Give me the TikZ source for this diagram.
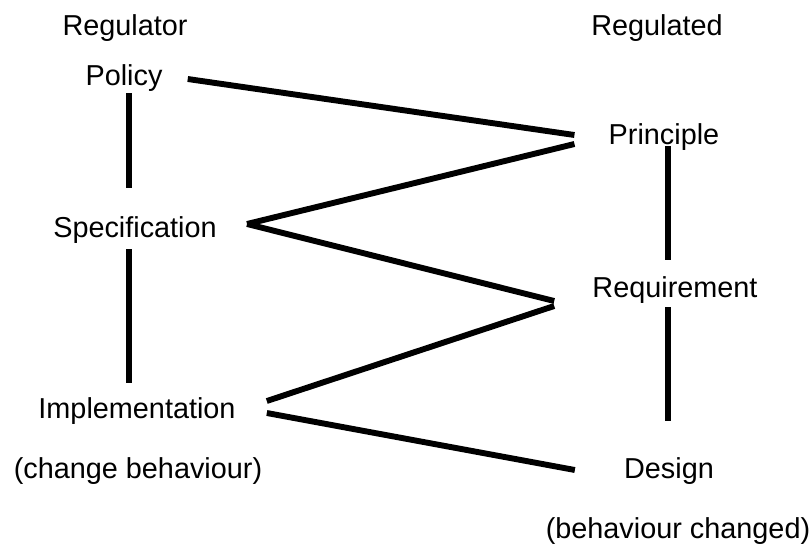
\documentclass[tikz,border=0pt]{standalone}
\usepackage{fontspec}
\setmainfont{Liberation Sans}
\usetikzlibrary{calc}

\begin{document}
\begin{tikzpicture}[
    x=0.025cm, y=-0.025cm,
    every node/.style={font=\fontsize{20.5}{24}\selectfont, inner sep=0pt, anchor=base},
    link/.style={draw=black, line width=4.2pt}
]
\useasboundingbox (0,0) rectangle (812,547);
% regulator side
\node (regulator) at (125,35) {Regulator};
\node (policy) at (124,85) {Policy};
\node (spec) at (135,237) {Specification};
\node (impl) at (137,418) {Implementation};
\node (change) at (138,478) {(change behaviour)};
% regulated side
\node (regulated) at (657,35) {Regulated};
\node (princ) at (664,144) {Principle};
\node (req) at (675,297) {Requirement};
\node (design) at (669,478) {Design};
\node (changed) at (678,538) {(behaviour changed)};
% vertical links
\draw[link] ($(policy.base)+(5,8)$) -- ($(spec.base)+(-6,-49)$);
\draw[link] ($(spec.base)+(-6,12)$) -- ($(impl.base)+(-8,-35)$);
\draw[link] ($(princ.base)+(4,2)$) -- ($(req.base)+(-7,-37)$);
\draw[link] ($(req.base)+(-7,10)$) -- ($(design.base)+(-1,-57)$);
% zigzag links
\draw[link] ($(policy.base east)+(25,-6)$) -- ($(princ.base west)+(-34,-9)$);
\draw[link] ($(princ.base west)+(-34,0)$) -- ($(spec.base east)+(30,-13)$);
\draw[link] ($(spec.base east)+(30,-13)$) -- ($(req.base west)+(-38,4)$);
\draw[link] ($(req.base west)+(-38,9)$) -- ($(impl.base east)+(31,-17)$);
\draw[link] ($(impl.base east)+(31,-5)$) -- ($(design.base west)+(-49,-8)$);
\end{tikzpicture}
\end{document}
